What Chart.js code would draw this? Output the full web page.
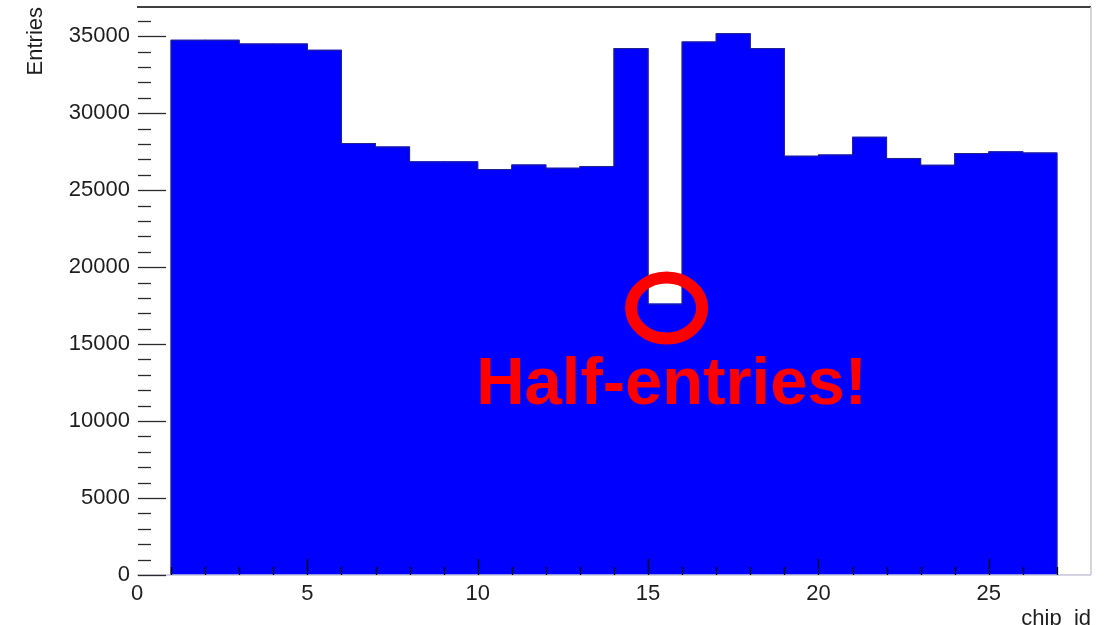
<!DOCTYPE html>
<html>
<head>
<meta charset="utf-8">
<script src="https://cdn.jsdelivr.net/npm/chart.js@4/dist/chart.umd.min.js"></script>
<style>
  html, body { margin: 0; padding: 0; background: #ffffff; }
  #wrap { width: 1114px; height: 625px; }
</style>
</head>
<body>
<div id="wrap"><canvas id="hist" width="1114" height="625"></canvas></div>
<script>
// Histogram of entries per chip_id (one bin per chip, lower edge listed)
const chipIds = [1, 2, 3, 4, 5, 6, 7, 8, 9, 10, 11, 12, 13, 14, 15, 16, 17, 18, 19, 20, 21, 22, 23, 24, 25, 26];
const entries = [34740, 34740, 34500, 34500, 34090, 28030, 27810, 26840, 26840, 26340, 26640, 26430, 26540,
                 34200, 17600, 34630, 35170, 34200, 27210, 27290, 28440, 27060, 26620, 27380, 27490, 27420];
const binWidth = 1;

// Axis ranges and labelled ticks
const xRange = [0, 28];
const yRange = [0, 36900];
const xTickLabels = [0, 5, 10, 15, 20, 25];
const yTickLabels = [0, 5000, 10000, 15000, 20000, 25000, 30000, 35000];

// Callout pointing at the half-filled chip
const calloutChip = 15;
const calloutText = 'Half-entries!';

const FONT = '"Liberation Sans", Arial, Helvetica, sans-serif';
const INK = '#1e1e1e';

// Step outline of the histogram: left edge of every bin, then the closing edge
const lastEdge = chipIds[chipIds.length - 1] + binWidth;
const outline = [{ x: chipIds[0], y: 0 }]
  .concat(chipIds.map((c, i) => ({ x: c, y: entries[i] })))
  .concat([{ x: lastEdge, y: entries[entries.length - 1] }, { x: lastEdge, y: 0 }]);

const rootFrame = {
  id: 'rootFrame',
  afterDatasetsDraw(chart) {
    const { ctx, chartArea: a, scales: { x, y } } = chart;
    ctx.save();

    // frame
    ctx.lineWidth = 1.5;
    ctx.strokeStyle = '#000';
    ctx.beginPath(); ctx.moveTo(a.left, a.top); ctx.lineTo(a.right, a.top); ctx.stroke();
    ctx.strokeStyle = '#c8c8c8';
    ctx.beginPath(); ctx.moveTo(a.right, a.top); ctx.lineTo(a.right, a.bottom); ctx.stroke();
    ctx.strokeStyle = '#c4c4d8';
    ctx.beginPath(); ctx.moveTo(a.left, a.bottom); ctx.lineTo(a.right, a.bottom); ctx.stroke();

    // x ticks pointing into the frame
    ctx.strokeStyle = '#000';
    ctx.lineWidth = 1.3;
    for (let v = Math.ceil(xRange[0]) + 1; v < xRange[1]; v += 1) {
      const px = Math.round(x.getPixelForValue(v)) + 0.5;
      const len = v % 5 === 0 ? 16 : 8;
      ctx.beginPath(); ctx.moveTo(px, a.bottom); ctx.lineTo(px, a.bottom - len); ctx.stroke();
    }

    // y ticks pointing into the frame
    ctx.strokeStyle = '#2a2a2a';
    for (let v = 0; v <= yRange[1]; v += 1000) {
      const py = Math.round(y.getPixelForValue(v)) + 0.5;
      const len = v % 5000 === 0 ? 29 : 14;
      ctx.beginPath(); ctx.moveTo(a.left + 1, py); ctx.lineTo(a.left + len, py); ctx.stroke();
    }

    // axis titles
    ctx.fillStyle = INK;
    ctx.font = '22px ' + FONT;
    ctx.textAlign = 'right';
    ctx.textBaseline = 'alphabetic';
    ctx.fillText('chip_id', a.right, 625);
    ctx.save();
    ctx.translate(42, a.top);
    ctx.rotate(-Math.PI / 2);
    ctx.fillText('Entries', 0, 0);
    ctx.restore();

    // callout ring around the half-filled bin top
    const idx = chipIds.indexOf(calloutChip);
    const cx = x.getPixelForValue(calloutChip + binWidth / 2) + 1.5;
    const cy = y.getPixelForValue(entries[idx]);
    ctx.strokeStyle = '#ff0000';
    ctx.lineWidth = 12;
    ctx.beginPath();
    ctx.ellipse(cx, cy + 4, 35.5, 30.5, 0, 0, Math.PI * 2);
    ctx.stroke();

    ctx.fillStyle = '#ff0000';
    ctx.font = 'bold 67px ' + FONT;
    ctx.textAlign = 'center';
    ctx.fillText(calloutText, cx + 5, cy + 100);

    ctx.restore();
  }
};

new Chart(document.getElementById('hist'), {
  data: {
    datasets: [{
      type: 'bar',
      data: chipIds.map((c, i) => ({ x: c + binWidth / 2, y: entries[i] })),
      backgroundColor: '#0000ff',
      borderWidth: 0,
      inflateAmount: 0.5,
      barPercentage: 1,
      categoryPercentage: 1,
      order: 2
    }, {
      type: 'line',
      data: outline,
      stepped: 'before',
      borderColor: '#24248a',
      borderWidth: 1,
      pointRadius: 0,
      fill: false,
      order: 1
    }]
  },
  options: {
    responsive: false,
    animation: false,
    devicePixelRatio: 1,
    layout: { padding: { top: 7, right: 23, left: 0, bottom: 0 } },
    plugins: { legend: { display: false }, tooltip: { enabled: false } },
    scales: {
      x: {
        type: 'linear',
        offset: false,
        min: xRange[0],
        max: xRange[1],
        grid: { display: false, drawTicks: false, offset: false },
        border: { display: false },
        afterBuildTicks: s => { s.ticks = xTickLabels.map(v => ({ value: v })); },
        afterFit: s => { s.height = 50; s.paddingLeft = 0; s.paddingRight = 0; },
        ticks: {
          padding: 6,
          maxRotation: 0,
          autoSkip: false,
          color: INK,
          font: { family: FONT, size: 22 },
          callback: v => String(v)
        }
      },
      y: {
        type: 'linear',
        min: yRange[0],
        max: yRange[1],
        grid: { display: false, drawTicks: false },
        border: { display: false },
        afterBuildTicks: s => { s.ticks = yTickLabels.map(v => ({ value: v })); },
        afterFit: s => { s.width = 137; s.paddingTop = 0; s.paddingBottom = 0; },
        ticks: {
          padding: 7,
          autoSkip: false,
          color: INK,
          font: { family: FONT, size: 22 },
          callback: v => String(v)
        }
      }
    }
  },
  plugins: [rootFrame]
});
</script>
</body>
</html>
